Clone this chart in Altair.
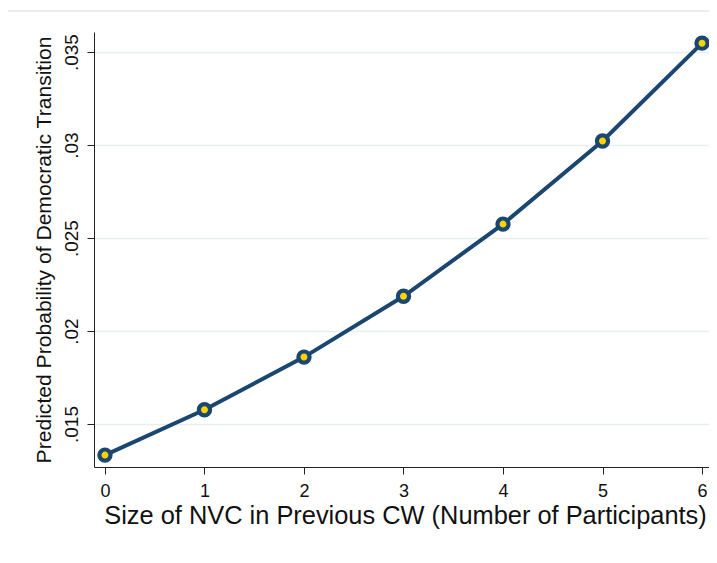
import altair as alt
import pandas as pd

# Data
nvc_size = [0, 1, 2, 3, 4, 5, 6]
pred_prob = [0.01333, 0.01577, 0.01860, 0.02187, 0.02575, 0.03022, 0.03548]

x_ticks = [0, 1, 2, 3, 4, 5, 6]
y_ticks = [0.015, 0.02, 0.025, 0.03, 0.035]

x_domain = [-0.11, 6.07]
y_domain = [0.01269, 0.03608]

df = pd.DataFrame({"size": nvc_size, "prob": pred_prob})

NAVY = "#1a476f"
GOLD = "#ffd200"
FONT = "Liberation Sans"

x_enc = alt.X(
    "size:Q",
    scale=alt.Scale(domain=x_domain, nice=False, zero=False),
    axis=alt.Axis(
        values=x_ticks,
        format="d",
        title="Size of NVC in Previous CW (Number of Participants)",
        grid=False,
        tickSize=7,
        labelPadding=8,
        labelFontSize=18,
        titleFontSize=25.4,
        titlePadding=3,
        titleX=311,
        titleAlign="center",
        titleFontWeight="normal",
    ),
)
y_enc = alt.Y(
    "prob:Q",
    scale=alt.Scale(domain=y_domain, nice=False, zero=False),
    axis=alt.Axis(
        values=y_ticks,
        labelExpr="replace(format(datum.value, '.3~f'), /^0/, '')",
        title="Predicted Probability of Democratic Transition",
        grid=True,
        gridColor="#e6eef0",
        gridWidth=1.5,
        tickSize=7,
        labelAngle=270,
        labelAlign="center",
        labelBaseline="bottom",
        labelPadding=6,
        labelFontSize=19,
        titleFontSize=21.1,
        titlePadding=8,
        titleFontWeight="normal",
    ),
)

frame = alt.Chart(df).mark_rect(
    fill="transparent", stroke="#ebedee", strokeWidth=1
).encode(
    x=alt.value(-87), x2=alt.value(700), y=alt.value(-21), y2=alt.value(620)
)

line = alt.Chart(df).mark_line(color=NAVY, strokeWidth=4).encode(x=x_enc, y=y_enc)
points = alt.Chart(df).mark_point(
    shape="circle", filled=True, fill=GOLD, stroke=NAVY, strokeWidth=4.2, size=125, opacity=1
).encode(x="size:Q", y="prob:Q")

chart = (
    alt.layer(frame, line, points)
    .properties(
        width=615,
        height=435,
        autosize=alt.AutoSizeParams(type="none"),
        padding={"left": 86, "top": 24, "right": 0, "bottom": 88},
        background="white",
    )
    .configure_view(stroke=None)
    .configure_axis(
        domainColor="#222222",
        tickColor="#222222",
        labelColor="#111111",
        titleColor="#111111",
        labelFont=FONT,
        titleFont=FONT,
        domainWidth=1,
        tickWidth=1,
    )
)

chart.save("out.html", embed_options={"renderer": "svg", "actions": False})
